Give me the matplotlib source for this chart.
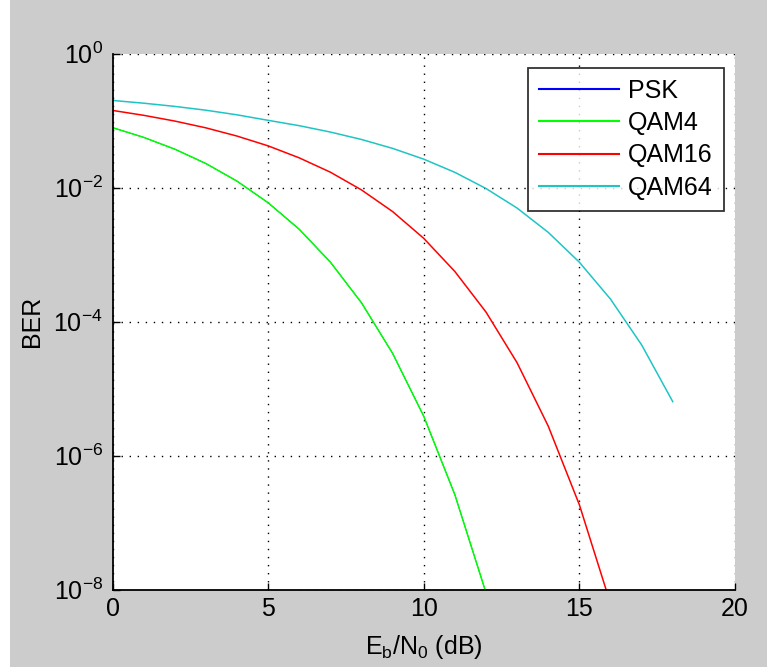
import numpy as np
import matplotlib
matplotlib.use("Agg")
import matplotlib.pyplot as plt
from matplotlib.patches import Rectangle

# ----------------- DATA -----------------
# BER, Eb/N0 in dB (integer steps)
ebn0_psk = [0, 1, 2, 3, 4, 5, 6, 7, 8, 9, 10, 11, 12, 13]
psk_ber = [0.0786, 0.0563, 0.0375, 0.0229, 0.0125, 0.00595, 0.00239,
           7.73e-4, 1.91e-4, 3.36e-5, 3.87e-6, 2.61e-7, 9.0e-9, 1.33e-10]

ebn0_qam4 = [0, 1, 2, 3, 4, 5, 6, 7, 8, 9, 10, 11, 12, 13]
qam4_ber = [0.0786, 0.0563, 0.0375, 0.0229, 0.0125, 0.00595, 0.00239,
            7.73e-4, 1.91e-4, 3.36e-5, 3.87e-6, 2.61e-7, 9.0e-9, 1.33e-10]

ebn0_qam16 = [0, 1, 2, 3, 4, 5, 6, 7, 8, 9, 10, 11, 12, 13, 14, 15, 16]
qam16_ber = [0.142, 0.120, 0.0985, 0.0780, 0.0588, 0.0420, 0.0278, 0.0170,
             0.00924, 0.00439, 0.00175, 5.6e-4, 1.39e-4, 2.43e-5, 2.76e-6,
             1.85e-7, 6.2e-9]

ebn0_qam64 = [0, 1, 2, 3, 4, 5, 6, 7, 8, 9, 10, 11, 12, 13, 14, 15, 16, 17, 18]
qam64_ber = [0.200, 0.182, 0.163, 0.143, 0.122, 0.101, 0.084, 0.0675, 0.0523,
             0.0385, 0.0266, 0.0169, 0.0097, 0.00495, 0.00215, 7.7e-4,
             2.17e-4, 4.5e-5, 6.4e-6]

series_labels = ["PSK", "QAM4", "QAM16", "QAM64"]
x_ticks = [0, 5, 10, 15, 20]
y_ticks = [1e-8, 1e-6, 1e-4, 1e-2, 1e0]
# ----------------------------------------

plt.rcParams["font.family"] = ["Liberation Sans", "DejaVu Sans"]
plt.rcParams["mathtext.fontset"] = "custom"
plt.rcParams["mathtext.rm"] = "Liberation Sans"
plt.rcParams["mathtext.it"] = "Liberation Sans"
plt.rcParams["mathtext.default"] = "regular"

FS = 18
W, H = 778, 667
fig = plt.figure(figsize=(W / 100, H / 100), dpi=100, facecolor="white")
# matlab grey figure area (thin white strip left/right like the screenshot)
fig.patches.append(Rectangle((10 / W, 0), (767 - 10) / W, 1, transform=fig.transFigure,
                             facecolor="#cccccc", edgecolor="none", zorder=-10))

ax = fig.add_axes([112.5 / W, 1 - 589.7 / H, (735 - 112.5) / W, (589.7 - 53.6) / H])
ax.set_facecolor("white")

colors = ["#0000ff", "#00ff00", "#ff0000", "#1fc4c4"]
widths = [0.5, 1.1, 1.1, 1.1]  # PSK sits under QAM4, keep it thin so green hides it
data = [(ebn0_psk, psk_ber), (ebn0_qam4, qam4_ber),
        (ebn0_qam16, qam16_ber), (ebn0_qam64, qam64_ber)]
for (x, y), c, lw, lab in zip(data, colors, widths, series_labels):
    ax.semilogy(x, y, color=c, lw=lw, label=lab)

ax.set_xlim(0, 20)
ax.set_ylim(1e-8, 1e0)
ax.set_xticks(x_ticks)
ax.set_yticks(y_ticks)
ax.yaxis.set_minor_locator(matplotlib.ticker.NullLocator())
ax.tick_params(direction="in", length=5, width=1, labelsize=FS, pad=7, colors="black")
ax.tick_params(axis="x", pad=5)

for s in ["top", "right"]:
    ax.spines[s].set_visible(False)
for s in ["left", "bottom"]:
    ax.spines[s].set_linewidth(1.3)

ax.grid(True, which="major", color="black", linestyle=(0, (1, 4.8)), linewidth=1.0)
ax.set_axisbelow(True)

ax.set_xlabel("E$_\\mathrm{b}$/N$_\\mathrm{0}$ (dB)", fontsize=FS, labelpad=9)
ax.set_ylabel("BER", fontsize=FS, labelpad=7)

leg = ax.legend(loc="upper right", bbox_to_anchor=(0.982, 0.974), borderaxespad=0,
                fontsize=FS, frameon=True, fancybox=False, handlelength=3.2,
                handletextpad=0.36, labelspacing=0.33, borderpad=0.45)
leg.get_frame().set_edgecolor("black")
leg.get_frame().set_linewidth(1.3)
for line in leg.get_lines():
    line.set_linewidth(1.5)

fig.savefig("out.png", dpi=100, facecolor=fig.get_facecolor())
